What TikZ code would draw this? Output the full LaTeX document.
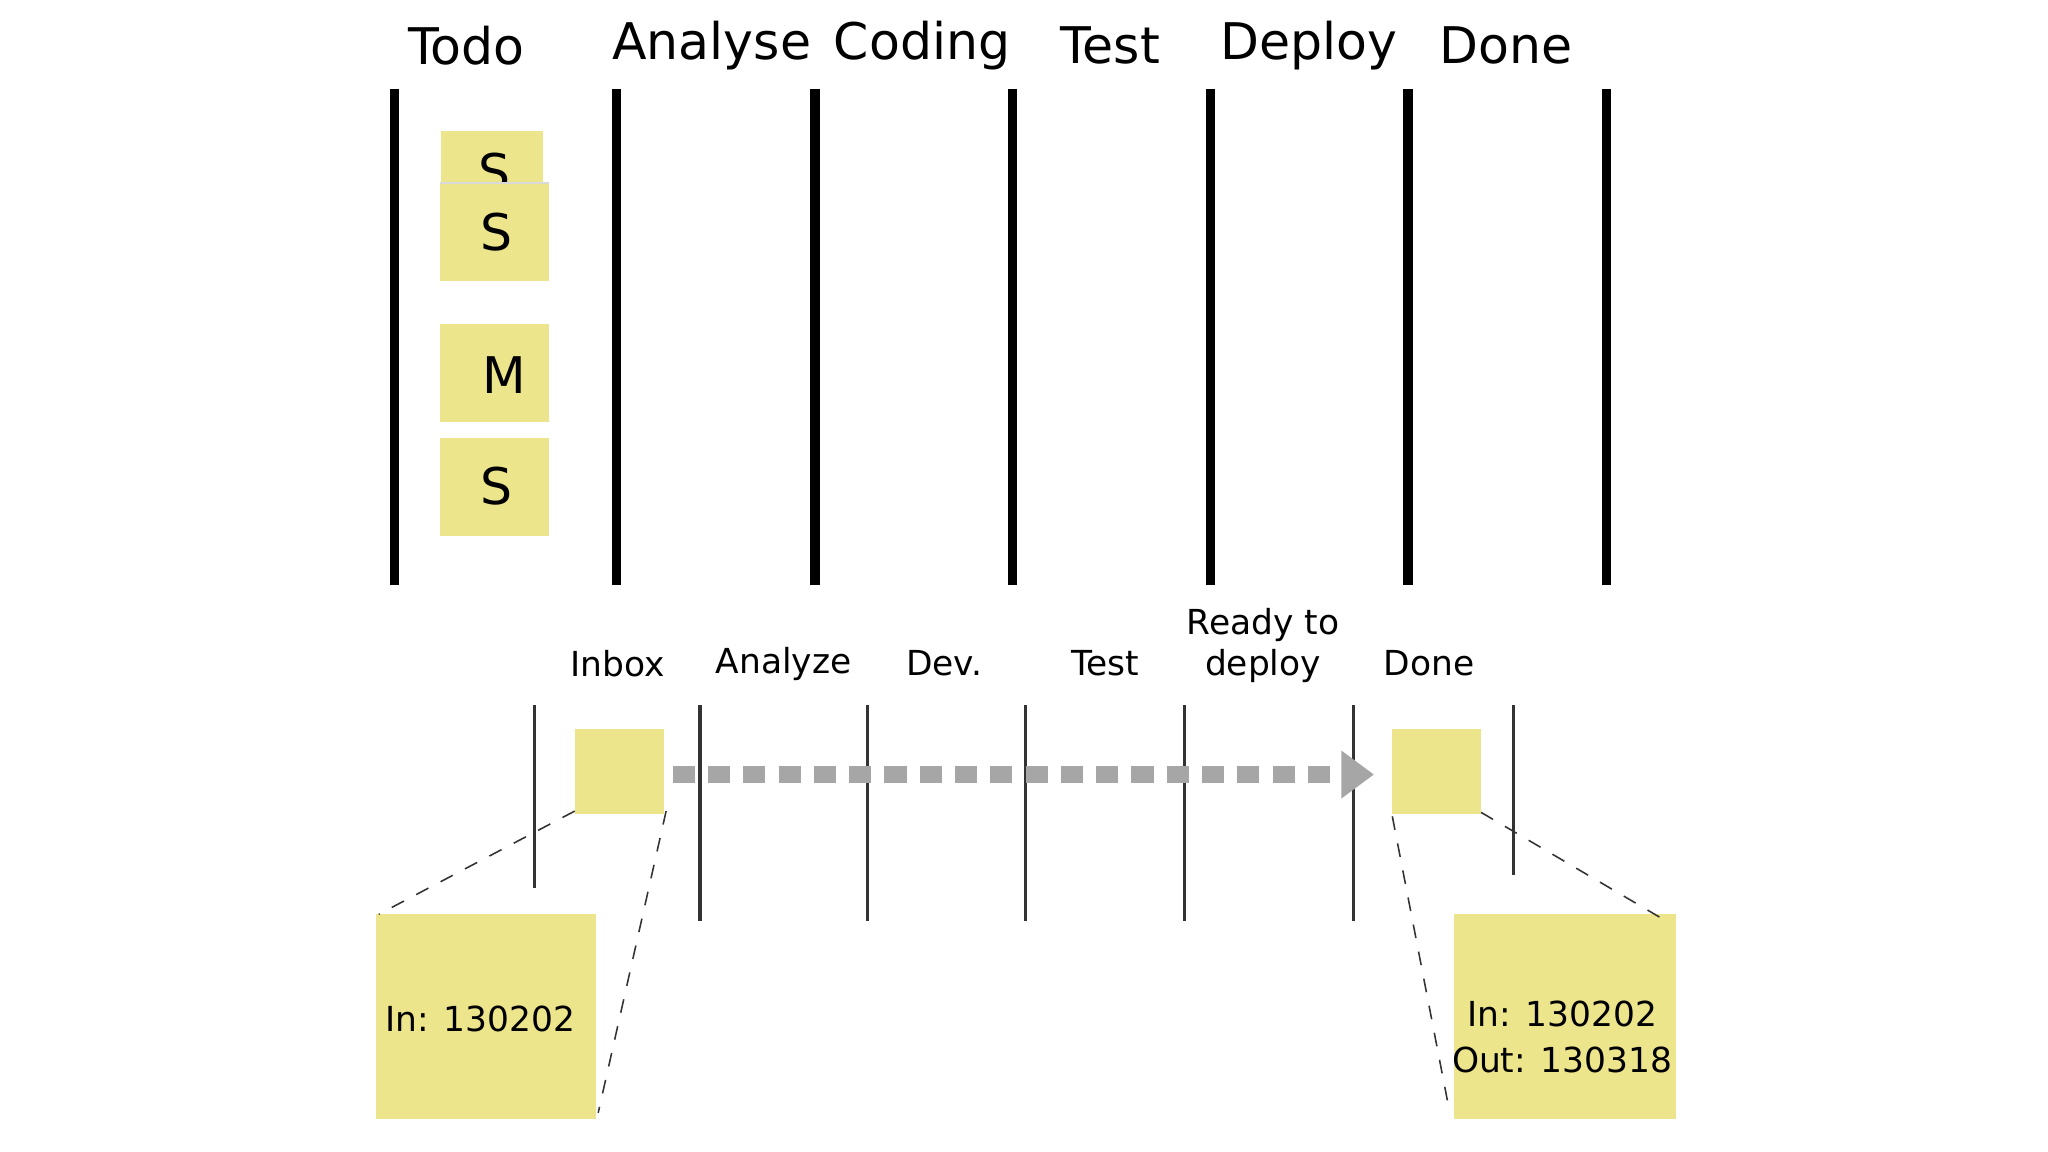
\documentclass[tikz,border=0pt]{standalone}
\usepackage{fontspec}
\setmainfont{DejaVu Sans}
\usetikzlibrary{arrows.meta}
\begin{document}
\begin{tikzpicture}[x=0.01cm,y=-0.01cm,
  col/.style={line width=0.07cm,black},
  thin/.style={line width=0.025cm,black!80},
  note/.style={fill=yellow!55!white!90!black,draw=none},
  head/.style={font=\fontsize{11}{13}\selectfont},
  lab/.style={font=\fontsize{7.5}{9}\selectfont,align=center},
  big/.style={font=\fontsize{7.5}{10}\selectfont,align=center},
  conn/.style={dashed,line width=0.012cm,black!80}]
\useasboundingbox (0,0) rectangle (1568,882);
\definecolor{post}{HTML}{EDE58C}
% headers
\foreach \x/\t [count=\i] in {357/Todo,545/Analyse,706/Coding,850/Test,1002/Deploy,1153/Done}
  \node[head] (h\i) at (\x,35) {\t};
\foreach \x [count=\i] in {302,472,624,775,927,1078,1230}
  \draw[col] (\x,68) coordinate (ct\i) -- (\x,448) coordinate (cb\i);
% stickies
\fill[post,drop shadow/.style={}] (338,100) rectangle (416,175);
\node[font=\fontsize{11}{13}\selectfont] (s0) at (379,132) {S};
\fill[post] (337,140) rectangle (420,215);
\draw[black!15] (337,140) -- (420,140);
\node[font=\fontsize{11}{13}\selectfont] (s1) at (380,178) {S};
\fill[post] (337,248) rectangle (420,323);
\node[font=\fontsize{11}{13}\selectfont] (s2) at (386,287) {M};
\fill[post] (337,335) rectangle (420,410);
\node[font=\fontsize{11}{13}\selectfont] (s3) at (380,372) {S};
% bottom labels
\foreach \x/\t [count=\i] in {473/Inbox,600/Analyze,723/Dev.,846/Test,1094/Done}
  \node[lab] (b\i) at (\x,508) {\t};
\node[lab] (b6) at (967,494) {Ready to\\deploy};
\foreach \x/\a/\b [count=\i] in {409/540/680,536/540/705,664/540/705,785/540/705,907/540/705,1036/540/705,1159/540/670}
  \draw[thin] (\x,\a) coordinate (lt\i) -- (\x,\b) coordinate (lb\i);
% small notes
\fill[post] (440,558) rectangle (508,623);
\node (n1) at (474,590) {};
\fill[post] (1066,558) rectangle (1134,623);
\node (n2) at (1100,590) {};
\coordinate (a1) at (515,593);
\coordinate (a2) at (1052,593);
\draw[black!35,line width=0.13cm,dash pattern=on 0.17cm off 0.1cm,-{Triangle[length=0.25cm,width=0.35cm]}] (a1) -- (a2);
% big notes
\fill[post] (288,700) rectangle (456,857);
\node[big] (t1) at (368,780) {In: 130202};
\fill[post] (1113,700) rectangle (1283,857);
\node[big] (t2) at (1196,794) {In: 130202\\Out: 130318};
\draw[conn] (440,621) -- (290,700);
\draw[conn] (510,621) -- (458,852);
\draw[conn] (1066,625) -- (1110,852);
\draw[conn] (1134,622) -- (1272,703);
\end{tikzpicture}
\end{document}
